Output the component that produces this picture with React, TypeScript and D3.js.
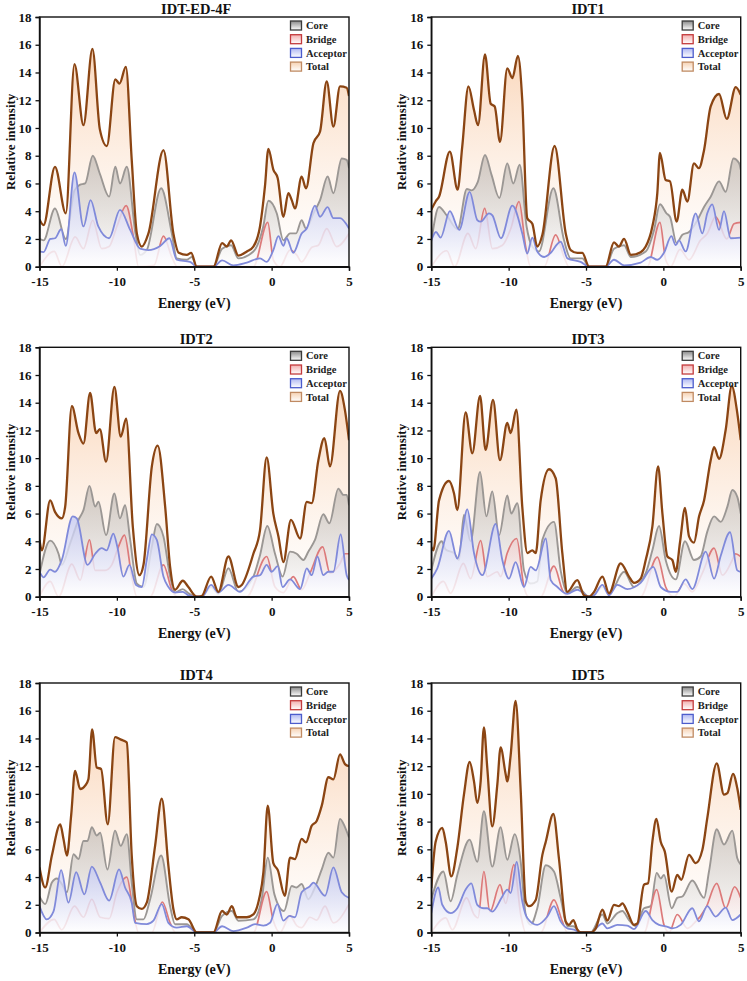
import React, { useRef, useEffect } from 'react';
import * as d3 from 'd3';

type Pt = [number, number];

// ---- data: [energy (eV), relative intensity] ----
const ed4fTotal: Pt[] = [[-15,3.4],[-14.74,3.0],[-14.0,7.2],[-13.3,3.85],[-12.74,14.6],[-12.16,10.2],[-11.58,15.7],[-11.1,9.9],[-10.65,8.7],[-10.1,13.5],[-9.83,13.2],[-9.42,14.4],[-9.04,7.7],[-8.71,2.4],[-8.39,1.45],[-7.96,2.4],[-6.99,8.4],[-6.35,2.4],[-6.0,1.0],[-5.48,0.85],[-5.2,1.0],[-4.84,0],[-3.76,0],[-3.2,1.7],[-2.9,1.45],[-2.62,1.9],[-2.15,0.8],[-1.6,1.1],[-1.18,1.45],[-0.75,2.9],[-0.43,5.8],[-0.21,8.5],[0.11,7.0],[0.39,6.4],[0.76,3.6],[1.08,5.3],[1.3,4.8],[1.51,4.2],[1.94,6.5],[2.22,5.65],[2.7,8.9],[3.13,9.75],[3.56,13.35],[3.99,10.1],[4.42,13.0],[4.85,12.9],[5,12.3]];
const ed4fCore: Pt[] = [[-15,2.0],[-14.74,1.9],[-14.0,4.2],[-13.3,2.0],[-12.74,5.5],[-12.4,5.9],[-12.05,6.0],[-11.56,8.0],[-11.1,6.7],[-10.5,5.05],[-10.1,7.2],[-9.8,6.0],[-9.36,7.2],[-8.8,2.4],[-8.5,0.85],[-8.07,1.2],[-7.14,5.65],[-6.45,2.4],[-6.13,0.6],[-5.48,0.5],[-5.16,0.7],[-4.84,0],[-3.76,0],[-3.2,1.3],[-2.62,1.55],[-2.15,0.6],[-1.18,1.1],[-0.54,2.9],[-0.21,4.75],[0.33,3.85],[0.76,1.9],[1.19,2.4],[1.58,2.4],[1.94,3.35],[2.22,2.75],[2.7,3.85],[3.13,4.8],[3.62,6.5],[3.99,5.3],[4.53,7.8],[4.85,7.7],[5,7.1]];
const ed4fBridge: Pt[] = [[-15,0],[-14.05,1.1],[-13.55,0],[-12.7,2.15],[-12.16,1.3],[-11.56,3.35],[-10.98,1.3],[-10.5,1.45],[-10.0,2.9],[-9.4,4.4],[-8.93,2.15],[-8.6,0],[-7.6,0.1],[-6.99,2.2],[-6.45,0.7],[-6.1,0],[-1.18,0],[-0.25,3.2],[0.11,0.5],[0.54,0],[1.19,1.2],[1.62,0.85],[1.94,0.35],[2.6,1.4],[3.02,1.55],[3.56,2.75],[4.2,1.45],[5,2.4]];
const ed4fAcceptor: Pt[] = [[-15,1.1],[-14.74,1.05],[-14.3,2.0],[-14.0,2.05],[-13.6,2.7],[-13.3,1.5],[-12.74,6.8],[-12.16,2.9],[-11.7,4.8],[-11.2,2.9],[-10.5,2.05],[-9.8,4.1],[-9.14,2.65],[-8.5,1.3],[-7.96,1.2],[-7.2,1.5],[-6.6,2.05],[-6.13,0.5],[-5.27,0.35],[-4.84,0],[-3.76,0],[-3.2,0.45],[-2.47,0.1],[-1.6,0.3],[-0.75,0.6],[-0.32,0.35],[0.11,1.2],[0.44,2.2],[0.76,1.5],[0.97,2.05],[1.4,1.0],[1.94,2.4],[2.27,2.75],[2.8,4.4],[3.13,3.6],[3.62,4.3],[3.99,3.5],[4.42,3.5],[5,2.75]];

const idt1Total: Pt[] = [[-15,4.1],[-14.72,4.7],[-14.5,5.05],[-13.8,8.3],[-13.3,5.55],[-13.0,8.65],[-12.6,13.0],[-12.24,11.3],[-11.98,10.2],[-11.53,15.3],[-11.16,11.75],[-10.9,11.55],[-10.56,9.0],[-10.09,14.3],[-9.76,13.6],[-9.4,15.2],[-9.12,12.0],[-8.8,3.5],[-8.47,3.1],[-8.15,1.45],[-7.82,2.3],[-7.03,8.7],[-6.31,2.4],[-5.99,1.2],[-5.56,1.0],[-5.24,1.0],[-4.8,0],[-3.73,0],[-3.19,1.75],[-2.87,1.45],[-2.54,2.0],[-2.1,0.85],[-1.47,1.05],[-1.14,1.45],[-0.71,2.9],[-0.39,5.3],[-0.22,8.2],[0.15,6.25],[0.43,6.15],[0.86,3.25],[1.23,5.55],[1.55,4.7],[1.98,7.45],[2.3,7.1],[2.63,8.4],[3.06,11.55],[3.6,12.45],[4.1,10.65],[4.68,12.95],[5,12.4]];
const idt1Core: Pt[] = [[-15,1.8],[-14.5,4.3],[-14.0,3.7],[-13.3,2.7],[-12.7,5.6],[-12.4,5.5],[-12.0,6.1],[-11.53,8.05],[-11.1,6.6],[-10.6,4.95],[-10.09,7.45],[-9.7,6.0],[-9.29,7.35],[-8.84,2.9],[-8.47,1.45],[-8.04,1.1],[-7.11,5.65],[-6.42,1.9],[-5.99,0.6],[-5.24,0.6],[-4.8,0],[-3.73,0],[-3.19,1.3],[-2.54,1.55],[-2.1,0.7],[-1.14,1.1],[-0.6,2.65],[-0.22,4.5],[0.2,3.85],[0.43,3.6],[0.86,1.7],[1.23,2.3],[1.66,2.5],[2.2,3.35],[2.63,4.3],[3.06,5.05],[3.6,6.15],[4.03,5.4],[4.53,7.8],[4.9,7.45],[5,7.0]];
const idt1Bridge: Pt[] = [[-15,0],[-14.0,1.15],[-13.5,0],[-12.63,2.4],[-12.13,1.3],[-11.55,4.2],[-11.05,1.3],[-10.4,1.55],[-9.86,2.75],[-9.33,4.7],[-8.9,1.45],[-8.58,0],[-7.7,0],[-6.96,2.3],[-6.42,0.7],[-6.1,0],[-1.04,0],[-0.22,3.2],[0.15,0.5],[0.47,0],[1.08,1.25],[1.66,0.5],[2.4,1.9],[2.84,2.4],[3.38,3.6],[4.1,2.0],[4.57,3.1],[5,3.2]];
const idt1Acceptor: Pt[] = [[-15,1.9],[-14.7,2.5],[-14.4,2.1],[-13.8,4.0],[-13.2,2.65],[-12.52,5.4],[-12.02,3.35],[-11.81,3.25],[-11.27,3.85],[-11.05,3.7],[-10.5,2.05],[-9.76,4.4],[-9.12,2.4],[-8.8,0.95],[-8.47,2.1],[-8.15,1.1],[-7.7,0.7],[-7.33,0.95],[-6.64,1.8],[-6.2,0.6],[-5.35,0.35],[-4.8,0],[-3.73,0],[-3.19,0.5],[-2.54,0.1],[-1.47,0.3],[-0.82,0.7],[-0.39,0.5],[0.04,1.0],[0.52,2.2],[0.8,1.55],[1.01,1.9],[1.44,1.1],[2.09,3.85],[2.52,2.4],[2.84,3.85],[3.16,4.5],[3.6,2.65],[3.92,4.0],[4.35,2.05],[5,2.1]];

const idt2Total: Pt[] = [[-15,4.1],[-14.85,3.35],[-14.31,6.95],[-13.99,6.1],[-13.56,5.65],[-13.34,6.5],[-12.91,13.75],[-12.48,11.8],[-12.16,11.05],[-11.73,14.7],[-11.34,11.8],[-11.1,12.1],[-10.7,9.75],[-10.16,15.15],[-9.75,11.55],[-9.4,12.85],[-8.97,5.05],[-8.54,1.55],[-8.28,2.3],[-7.74,9.4],[-7.36,10.9],[-6.88,6.5],[-6.56,2.15],[-6.24,0.5],[-5.74,1.15],[-5.38,0.7],[-4.84,0],[-4.52,0.05],[-3.91,1.45],[-3.44,0.35],[-2.79,2.9],[-2.15,0.7],[-1.93,0.85],[-1.18,3.1],[-0.75,4.8],[-0.32,10.05],[0.11,6.0],[0.44,4.35],[0.76,2.5],[1.25,5.55],[1.84,4.2],[2.27,6.85],[2.59,6.75],[3.02,9.85],[3.41,11.45],[3.77,9.4],[4.42,14.85],[4.74,13.45],[5,11.3]];
const idt2Core: Pt[] = [[-15,1.6],[-14.31,4.05],[-13.77,3.1],[-13.56,2.3],[-13.02,3.85],[-12.48,5.55],[-12.16,6.25],[-11.77,8.0],[-11.4,6.5],[-11.19,6.85],[-10.7,4.45],[-10.16,7.45],[-9.8,5.65],[-9.47,6.6],[-9.14,4.1],[-8.71,0.95],[-8.28,0.7],[-7.74,3.6],[-7.42,5.25],[-6.99,4.35],[-6.56,1.45],[-6.24,0.3],[-5.74,0.55],[-5.38,0.25],[-4.84,0],[-4.5,0],[-3.91,0.7],[-3.44,0.2],[-2.79,2.05],[-2.15,0.35],[-1.18,1.45],[-0.75,3.0],[-0.28,5.1],[0.22,3.1],[0.71,1.45],[1.19,3.25],[1.62,3.1],[2.05,2.65],[2.37,3.25],[2.8,4.1],[3.34,5.95],[3.73,5.3],[4.31,7.8],[4.64,7.35],[4.85,7.35],[5,6.6]];
const idt2Bridge: Pt[] = [[-15,0],[-14.31,1.1],[-13.77,0],[-12.91,2.35],[-12.37,1.2],[-11.77,4.1],[-11.4,1.9],[-10.76,1.9],[-10.33,2.3],[-9.9,3.6],[-9.51,4.45],[-9.04,1.45],[-8.71,0],[-7.85,0],[-6.99,2.3],[-6.45,0.5],[-6.1,0],[-1.61,0],[-0.32,2.9],[0.22,0.7],[0.76,0.3],[1.4,1.45],[1.94,0.5],[2.48,1.7],[3.3,3.6],[3.77,1.7],[4.42,2.4],[4.74,3.1],[5,3.1]];
const idt2Acceptor: Pt[] = [[-15,1.8],[-14.74,1.4],[-14.31,1.95],[-13.99,1.8],[-13.56,2.65],[-12.85,5.8],[-12.59,5.65],[-11.9,2.3],[-11.4,3.1],[-10.98,3.5],[-10.66,3.35],[-10.23,4.55],[-9.97,3.6],[-9.58,1.45],[-9.19,2.3],[-8.76,0.85],[-8.39,0.7],[-8.07,2.65],[-7.74,4.5],[-7.42,4.1],[-6.99,1.45],[-6.67,0.7],[-6.24,0.3],[-5.74,0.35],[-5.38,0.1],[-4.84,0],[-4.5,0],[-3.91,0.85],[-3.44,0.3],[-2.79,0.85],[-2.04,0.35],[-1.18,1.45],[-0.75,1.55],[-0.32,2.3],[0.0,1.8],[0.39,2.2],[0.71,0.7],[1.19,1.25],[1.84,0.55],[2.27,2.05],[2.59,1.55],[2.96,2.9],[3.34,1.55],[3.66,1.8],[3.99,1.8],[4.46,4.5],[4.85,1.55],[5,1.2]];

const idt3Total: Pt[] = [[-15,3.6],[-14.87,3.35],[-14.5,6.95],[-13.86,8.35],[-13.53,7.45],[-13.32,6.25],[-12.78,13.3],[-12.35,10.35],[-11.85,14.5],[-11.49,10.6],[-11.01,14.2],[-10.56,9.85],[-10.09,12.55],[-9.87,11.8],[-9.5,13.5],[-9.12,6.5],[-8.79,3.15],[-8.47,3.35],[-8.25,3.15],[-7.93,6.95],[-7.39,9.2],[-6.96,8.55],[-6.53,3.15],[-6.21,0.35],[-5.56,1.2],[-5.13,0.1],[-4.81,0],[-4.48,0.35],[-3.94,1.45],[-3.51,0.25],[-2.76,2.4],[-2.22,1.45],[-1.9,1.0],[-1.47,1.3],[-1.14,2.65],[-0.71,5.05],[-0.34,9.4],[-0.06,6.0],[0.26,2.9],[0.58,2.65],[0.8,1.8],[1.08,3.95],[1.4,6.4],[1.66,4.35],[1.98,3.9],[2.31,5.8],[2.63,6.95],[3.06,9.85],[3.28,10.8],[3.6,9.95],[4.03,12.05],[4.42,15.2],[4.78,13.25],[5,11.3]];
const idt3Core: Pt[] = [[-15,1.9],[-14.33,4.0],[-14.07,3.4],[-13.53,3.15],[-13.21,2.65],[-12.89,5.9],[-12.46,4.0],[-11.85,9.0],[-11.44,5.8],[-11.06,7.6],[-10.62,4.45],[-10.09,7.3],[-9.83,6.0],[-9.44,6.75],[-9.01,1.9],[-8.58,0.95],[-8.15,1.1],[-7.82,4.1],[-7.07,5.4],[-6.64,1.9],[-6.21,0.25],[-5.56,0.7],[-4.81,0],[-4.48,0.1],[-3.94,0.7],[-3.51,0.2],[-2.54,1.8],[-1.9,0.7],[-1.14,1.7],[-0.71,3.35],[-0.28,5.1],[0.15,2.65],[0.8,1.25],[1.4,4.0],[1.98,2.65],[2.41,2.9],[2.84,4.7],[3.28,5.8],[3.71,5.4],[4.14,6.5],[4.46,7.7],[4.78,7.2],[5,6.0]];
const idt3Bridge: Pt[] = [[-15,0],[-14.22,1.1],[-13.75,0.25],[-12.93,2.4],[-12.46,1.3],[-11.81,4.05],[-11.38,1.45],[-10.73,1.8],[-10.52,1.45],[-10.09,3.15],[-9.48,4.2],[-9.01,0.7],[-8.7,0],[-7.93,0],[-7.07,2.2],[-6.53,0.5],[-6.2,0],[-1.47,0],[-0.39,2.85],[0.15,0.7],[0.69,0],[1.34,0.95],[1.87,0.35],[2.52,1.7],[3.28,3.5],[3.82,1.55],[4.46,2.65],[4.67,3.1],[5,2.9]];
const idt3Acceptor: Pt[] = [[-15,1.3],[-14.61,2.05],[-13.86,4.75],[-13.32,2.75],[-12.67,6.3],[-12.24,3.15],[-11.7,1.55],[-10.84,5.25],[-10.41,2.65],[-9.98,1.3],[-9.55,2.5],[-9.01,0.7],[-8.58,2.15],[-8.25,1.9],[-7.6,4.2],[-7.28,1.2],[-6.85,0.7],[-6.21,0.2],[-5.56,0.5],[-4.81,0],[-4.48,0.1],[-3.94,0.85],[-3.51,0.1],[-2.97,0.85],[-2.33,0.55],[-1.47,1.0],[-0.65,2.15],[-0.17,0.7],[0.47,0.35],[0.9,0.35],[1.44,1.25],[1.87,0.55],[2.74,3.25],[3.28,1.3],[3.71,2.95],[4.31,4.65],[4.78,1.9],[5,1.8]];

const idt4Total: Pt[] = [[-15,4.7],[-14.63,3.25],[-14.2,5.55],[-13.66,7.8],[-13.45,6.75],[-13.23,5.55],[-12.95,8.5],[-12.7,11.65],[-12.37,10.35],[-12.05,10.6],[-11.84,11.05],[-11.6,14.65],[-11.3,11.9],[-11.02,11.8],[-10.59,7.8],[-10.12,14.1],[-9.8,13.95],[-9.59,13.85],[-9.36,13.7],[-9.04,5.55],[-8.71,1.9],[-8.39,1.7],[-8.07,2.15],[-7.53,6.25],[-7.1,9.65],[-6.67,4.8],[-6.35,1.7],[-6.13,0.95],[-5.81,1.1],[-5.38,0.95],[-4.84,0],[-3.76,0],[-3.2,1.55],[-2.9,1.3],[-2.57,1.9],[-2.25,1.1],[-1.6,1.1],[-1.18,1.3],[-0.79,2.5],[-0.53,4.35],[-0.25,9.15],[0.11,5.0],[0.4,4.5],[0.85,2.65],[1.19,5.4],[1.51,5.3],[1.94,6.75],[2.22,6.5],[2.59,7.7],[2.91,8.05],[3.24,9.15],[3.67,11.2],[3.99,11.05],[4.42,12.85],[4.74,12.15],[5,12.0]];
const idt4Core: Pt[] = [[-15,2.6],[-14.63,2.05],[-14.2,3.6],[-13.88,3.9],[-13.56,3.5],[-13.23,2.9],[-12.8,5.65],[-12.48,5.3],[-12.16,6.6],[-11.9,6.6],[-11.62,7.6],[-11.3,7.0],[-11.08,7.2],[-10.61,4.55],[-10.12,7.35],[-9.75,6.25],[-9.36,7.1],[-9.04,3.6],[-8.71,0.95],[-8.28,0.95],[-7.85,2.4],[-7.14,5.55],[-6.56,1.9],[-6.24,0.6],[-5.48,0.6],[-4.84,0],[-3.76,0],[-3.2,1.2],[-2.57,1.55],[-2.15,0.85],[-1.18,0.95],[-0.64,2.4],[-0.25,5.4],[0.18,2.75],[0.8,1.55],[1.3,3.35],[1.62,3.25],[1.94,3.5],[2.37,2.4],[2.8,3.25],[3.24,4.55],[3.67,5.75],[3.99,5.4],[4.42,8.2],[4.74,7.6],[5,6.85]];
const idt4Bridge: Pt[] = [[-15,0],[-14.05,0.95],[-13.56,0.2],[-12.74,1.9],[-12.16,1.1],[-11.62,2.4],[-11.08,1.1],[-10.5,1.0],[-10.0,2.9],[-9.36,4.0],[-8.93,1.45],[-8.6,0],[-7.74,0],[-7.06,2.2],[-6.56,0.7],[-6.2,0],[-1.18,0],[-0.32,2.95],[0.11,0.85],[0.54,0],[1.19,1.2],[1.62,0.5],[1.94,0.35],[2.48,1.1],[2.91,0.9],[3.45,1.9],[3.99,0.7],[5,2.05]];
const idt4Acceptor: Pt[] = [[-15,1.9],[-14.53,0.95],[-14.1,1.5],[-13.6,4.5],[-13.13,2.15],[-12.63,4.35],[-12.1,2.75],[-11.62,4.75],[-11.08,3.6],[-10.5,2.3],[-9.86,4.55],[-9.47,3.25],[-9.04,2.15],[-8.82,0.7],[-8.07,0.6],[-7.64,0.85],[-7.1,2.05],[-6.67,0.7],[-6.13,0.35],[-5.48,0.45],[-4.84,0],[-3.76,0],[-3.2,0.45],[-2.47,0.1],[-1.6,0.35],[-1.07,0.6],[-0.53,0.5],[-0.1,0.7],[0.37,2.05],[0.76,0.85],[1.15,1.2],[1.51,1.1],[1.94,2.9],[2.48,3.35],[2.7,3.6],[3.45,2.65],[3.99,4.7],[4.53,2.9],[5,2.5]];

const idt5Total: Pt[] = [[-15,3.2],[-14.72,6.55],[-14.29,7.55],[-14.07,6.55],[-13.71,4.05],[-13.32,6.1],[-12.89,9.95],[-12.52,12.3],[-12.24,10.9],[-12.03,9.35],[-11.81,10.9],[-11.6,14.8],[-11.38,11.85],[-11.06,7.65],[-10.73,10.7],[-10.52,13.35],[-10.19,11.4],[-10.09,10.9],[-9.87,12.8],[-9.55,16.7],[-9.22,10.2],[-8.9,2.25],[-8.69,1.9],[-8.25,2.35],[-7.82,5.6],[-7.6,6.55],[-7.11,8.55],[-6.75,5.35],[-6.31,0.8],[-6.1,0.55],[-5.82,0.9],[-5.56,0.2],[-5.34,0],[-4.7,0],[-4.37,0.3],[-3.94,1.65],[-3.62,0.85],[-3.19,2.0],[-2.87,1.9],[-2.65,2.1],[-2.33,1.5],[-1.9,0.55],[-1.68,0.65],[-1.25,3.45],[-0.99,3.55],[-0.71,6.55],[-0.45,8.2],[-0.17,6.55],[0.09,5.85],[0.54,2.95],[0.9,4.15],[1.16,3.8],[1.66,5.6],[2.09,5.0],[2.52,5.95],[2.84,8.25],[3.45,12.2],[3.92,9.95],[4.14,10.05],[4.5,11.45],[4.78,10.4],[5,8.85]];
const idt5Core: Pt[] = [[-15,2.4],[-14.22,4.4],[-13.75,2.25],[-13.32,4.15],[-12.52,6.7],[-12.03,5.1],[-11.6,8.75],[-11.06,4.75],[-10.52,7.6],[-10.09,5.25],[-9.61,7.1],[-9.22,5.1],[-8.9,1.3],[-8.58,0.55],[-8.15,1.75],[-7.6,4.85],[-7.07,4.4],[-6.64,2.5],[-6.2,0.45],[-5.82,0.45],[-5.34,0],[-4.7,0],[-3.94,1.3],[-3.62,0.65],[-2.97,1.4],[-2.65,1.55],[-2.22,0.9],[-1.79,0.45],[-1.25,1.75],[-0.82,1.9],[-0.43,4.3],[-0.17,3.9],[0.04,4.15],[0.54,1.75],[0.9,2.5],[1.23,2.6],[1.87,3.75],[2.63,2.5],[2.95,4.4],[3.45,7.45],[3.92,6.35],[4.46,7.35],[4.78,5.35],[5,4.9]];
const idt5Bridge: Pt[] = [[-15,0],[-14.07,1.05],[-13.64,0.2],[-12.72,2.5],[-12.24,1.3],[-11.98,1.05],[-11.6,4.4],[-11.21,1.5],[-10.56,3.45],[-10.19,2.1],[-9.66,4.9],[-9.22,1.3],[-8.9,0],[-7.93,0],[-7.07,2.35],[-6.53,0.8],[-6.2,0],[-1.25,0],[-0.43,3.1],[0.04,0.55],[0.37,0],[0.9,1.3],[1.55,0.3],[1.98,0.65],[2.74,1.75],[3.45,3.55],[4.03,1.75],[4.61,3.3],[5,2.5]];
const idt5Acceptor: Pt[] = [[-15,1.4],[-14.55,3.25],[-14.29,2.0],[-13.75,1.4],[-13.32,1.75],[-12.78,3.1],[-12.41,3.55],[-12.03,2.0],[-11.6,1.75],[-11.38,1.75],[-11.06,1.5],[-10.41,2.6],[-10.09,3.1],[-9.87,2.85],[-9.48,5.1],[-9.12,2.25],[-8.8,1.05],[-8.15,0.55],[-7.5,1.15],[-7.07,1.9],[-6.64,0.8],[-6.2,0.3],[-5.77,0.2],[-5.34,0],[-4.7,0],[-3.94,0.65],[-3.62,0.3],[-2.97,0.55],[-2.33,0.5],[-1.9,0.25],[-1.14,1.55],[-0.71,0.9],[-0.28,0.55],[0.15,0.45],[0.58,0.3],[1.12,0.55],[1.87,1.75],[2.3,0.8],[2.84,1.9],[3.38,1.15],[4.03,1.8],[4.46,0.9],[5,1.3]];

const titles = ['IDT-ED-4F', 'IDT1', 'IDT2', 'IDT3', 'IDT4', 'IDT5'];
const legendLabels = ['Core', 'Bridge', 'Acceptor', 'Total'];
const xTicks = [-15, -10, -5, 0, 5];
const yTicks = [0, 2, 4, 6, 8, 10, 12, 14, 16, 18];

const panels = [
  { total: ed4fTotal, core: ed4fCore, bridge: ed4fBridge, acceptor: ed4fAcceptor },
  { total: idt1Total, core: idt1Core, bridge: idt1Bridge, acceptor: idt1Acceptor },
  { total: idt2Total, core: idt2Core, bridge: idt2Bridge, acceptor: idt2Acceptor },
  { total: idt3Total, core: idt3Core, bridge: idt3Bridge, acceptor: idt3Acceptor },
  { total: idt4Total, core: idt4Core, bridge: idt4Bridge, acceptor: idt4Acceptor },
  { total: idt5Total, core: idt5Core, bridge: idt5Bridge, acceptor: idt5Acceptor },
].map((p, i) => ({ ...p, title: titles[i] }));

// plot boxes
const cols = [{ left: 39.5, right: 349 }, { left: 431.3, right: 740.7 }];
const rows = [{ top: 17, bottom: 266.7 }, { top: 347.3, bottom: 596.7 }, { top: 683, bottom: 932.5 }];

// drawing order matters: later fills wash out earlier lines
const styles = {
  total: { line: '#8b4513', lw: 2.3, top: '#f8c7a0', topOp: 0.7, botOp: 0.4 },
  core: { line: '#9b9794', lw: 1.9, top: '#a29d99', topOp: 0.48, botOp: 0.6 },
  bridge: { line: '#dc7a7a', lw: 1.7, top: '#f3c0c0', topOp: 0.45, botOp: 0.55 },
  acceptor: { line: '#808ada', lw: 1.8, top: '#c3c8f3', topOp: 0.75, botOp: 0.85 },
};
const legendColors = [
  { stroke: '#3a3a3a', fill: '#8a8a8a' },
  { stroke: '#c43b3d', fill: '#f2aeae' },
  { stroke: '#4c5ccc', fill: '#b0b8f2' },
  { stroke: '#c08a62', fill: '#f6d2b3' },
];

const FONT = '"Liberation Serif", "Times New Roman", serif';

const App = () => {
  const ref = useRef<SVGSVGElement>(null);

  useEffect(() => {
    const svg = d3.select(ref.current);
    svg.selectAll('*').remove();
    const defs = svg.append('defs');

    // gradients, objectBoundingBox so each fill fades from its own peak down to the baseline
    (Object.keys(styles) as (keyof typeof styles)[]).forEach(k => {
      const s = styles[k];
      const g = defs.append('linearGradient').attr('id', 'g-' + k)
        .attr('x1', 0).attr('y1', 0).attr('x2', 0).attr('y2', 1);
      g.append('stop').attr('offset', 0).attr('stop-color', s.top).attr('stop-opacity', s.topOp);
      g.append('stop').attr('offset', 1).attr('stop-color', '#ffffff').attr('stop-opacity', s.botOp);
    });
    legendColors.forEach((c, i) => {
      const g = defs.append('linearGradient').attr('id', 'lg-' + i)
        .attr('x1', 0).attr('y1', 0).attr('x2', 0).attr('y2', 1);
      g.append('stop').attr('offset', 0).attr('stop-color', c.fill);
      g.append('stop').attr('offset', 1).attr('stop-color', '#ffffff');
    });

    panels.forEach((p, i) => {
      const { left, right } = cols[i % 2];
      const { top, bottom } = rows[Math.floor(i / 2)];
      const x = d3.scaleLinear().domain([-15, 5]).range([left, right]);
      const y = d3.scaleLinear().domain([0, 18]).range([bottom, top]);

      const clipId = 'clip' + i;
      defs.append('clipPath').attr('id', clipId)
        .append('rect').attr('x', left).attr('y', top).attr('width', right - left).attr('height', bottom - top);

      const g = svg.append('g');
      const plot = g.append('g').attr('clip-path', `url(#${clipId})`);

      const area = d3.area<Pt>().x(d => x(d[0])).y0(y(0)).y1(d => y(d[1])).curve(d3.curveMonotoneX);
      const line = d3.line<Pt>().x(d => x(d[0])).y(d => y(d[1])).curve(d3.curveMonotoneX);

      const order: (keyof typeof styles)[] = ['total', 'core', 'bridge', 'acceptor'];
      order.forEach(k => {
        plot.append('path').attr('d', area(p[k])!).attr('fill', `url(#g-${k})`);
        if (k !== 'total') {
          plot.append('path').attr('d', line(p[k])!).attr('fill', 'none')
            .attr('stroke', styles[k].line).attr('stroke-width', styles[k].lw).attr('stroke-linejoin', 'round');
        }
      });
      plot.append('path').attr('d', line(p.total)!).attr('fill', 'none')
        .attr('stroke', styles.total.line).attr('stroke-width', styles.total.lw).attr('stroke-linejoin', 'round');

      // frame
      g.append('rect').attr('x', left).attr('y', top).attr('width', right - left).attr('height', bottom - top)
        .attr('fill', 'none').attr('stroke', '#111').attr('stroke-width', 1.4);

      const xAxis = g.append('g').attr('transform', `translate(0,${bottom})`)
        .call(d3.axisBottom(x).tickValues(xTicks).tickSize(4).tickPadding(6).tickFormat(d3.format('d')));
      const yAxis = g.append('g').attr('transform', `translate(${left},0)`)
        .call(d3.axisLeft(y).tickValues(yTicks).tickSize(4).tickPadding(4).tickFormat(d3.format('d')));
      [xAxis, yAxis].forEach(a => {
        a.select('.domain').attr('stroke', '#111').attr('stroke-width', 1.4);
        a.selectAll('.tick line').attr('stroke', '#111').attr('stroke-width', 1.3);
        a.selectAll('.tick text').attr('font-family', FONT).attr('font-weight', 'bold')
          .attr('font-size', 13).attr('fill', '#111');
      });
      // hyphen style minus like the reference
      xAxis.selectAll<SVGTextElement, number>('.tick text').text(d => String(d));

      g.append('text').attr('x', (left + right) / 2 + 2).attr('y', top - 3.5)
        .attr('text-anchor', 'middle').attr('font-family', FONT).attr('font-weight', 'bold')
        .attr('font-size', 14.5).attr('fill', '#111').text(p.title);

      g.append('text').attr('transform', `translate(${left - 25},${(top + bottom) / 2}) rotate(-90)`)
        .attr('text-anchor', 'middle').attr('font-family', FONT).attr('font-weight', 'bold')
        .attr('font-size', 13).attr('fill', '#111').text('Relative intensity');

      g.append('text').attr('x', (left + right) / 2).attr('y', bottom + 41)
        .attr('text-anchor', 'middle').attr('font-family', FONT).attr('font-weight', 'bold')
        .attr('font-size', 14).attr('fill', '#111').text('Energy (eV)');

      // legend
      const leg = g.append('g');
      legendLabels.forEach((lab, j) => {
        const cy = top + 8.5 + j * 13.7;
        leg.append('rect').attr('x', right - 58.5).attr('y', cy - 4.5).attr('width', 11).attr('height', 9)
          .attr('fill', `url(#lg-${j})`).attr('stroke', legendColors[j].stroke).attr('stroke-width', 1.3);
        leg.append('text').attr('x', right - 43).attr('y', cy + 3.6)
          .attr('font-family', FONT).attr('font-weight', 'bold').attr('font-size', 10.5)
          .attr('fill', '#222').text(lab);
      });
    });
  }, []);

  return (
    <svg ref={ref} width={747} height={981}
      style={{ position: 'absolute', left: 0, top: 0, background: '#fff' }} />
  );
};

export default App;
